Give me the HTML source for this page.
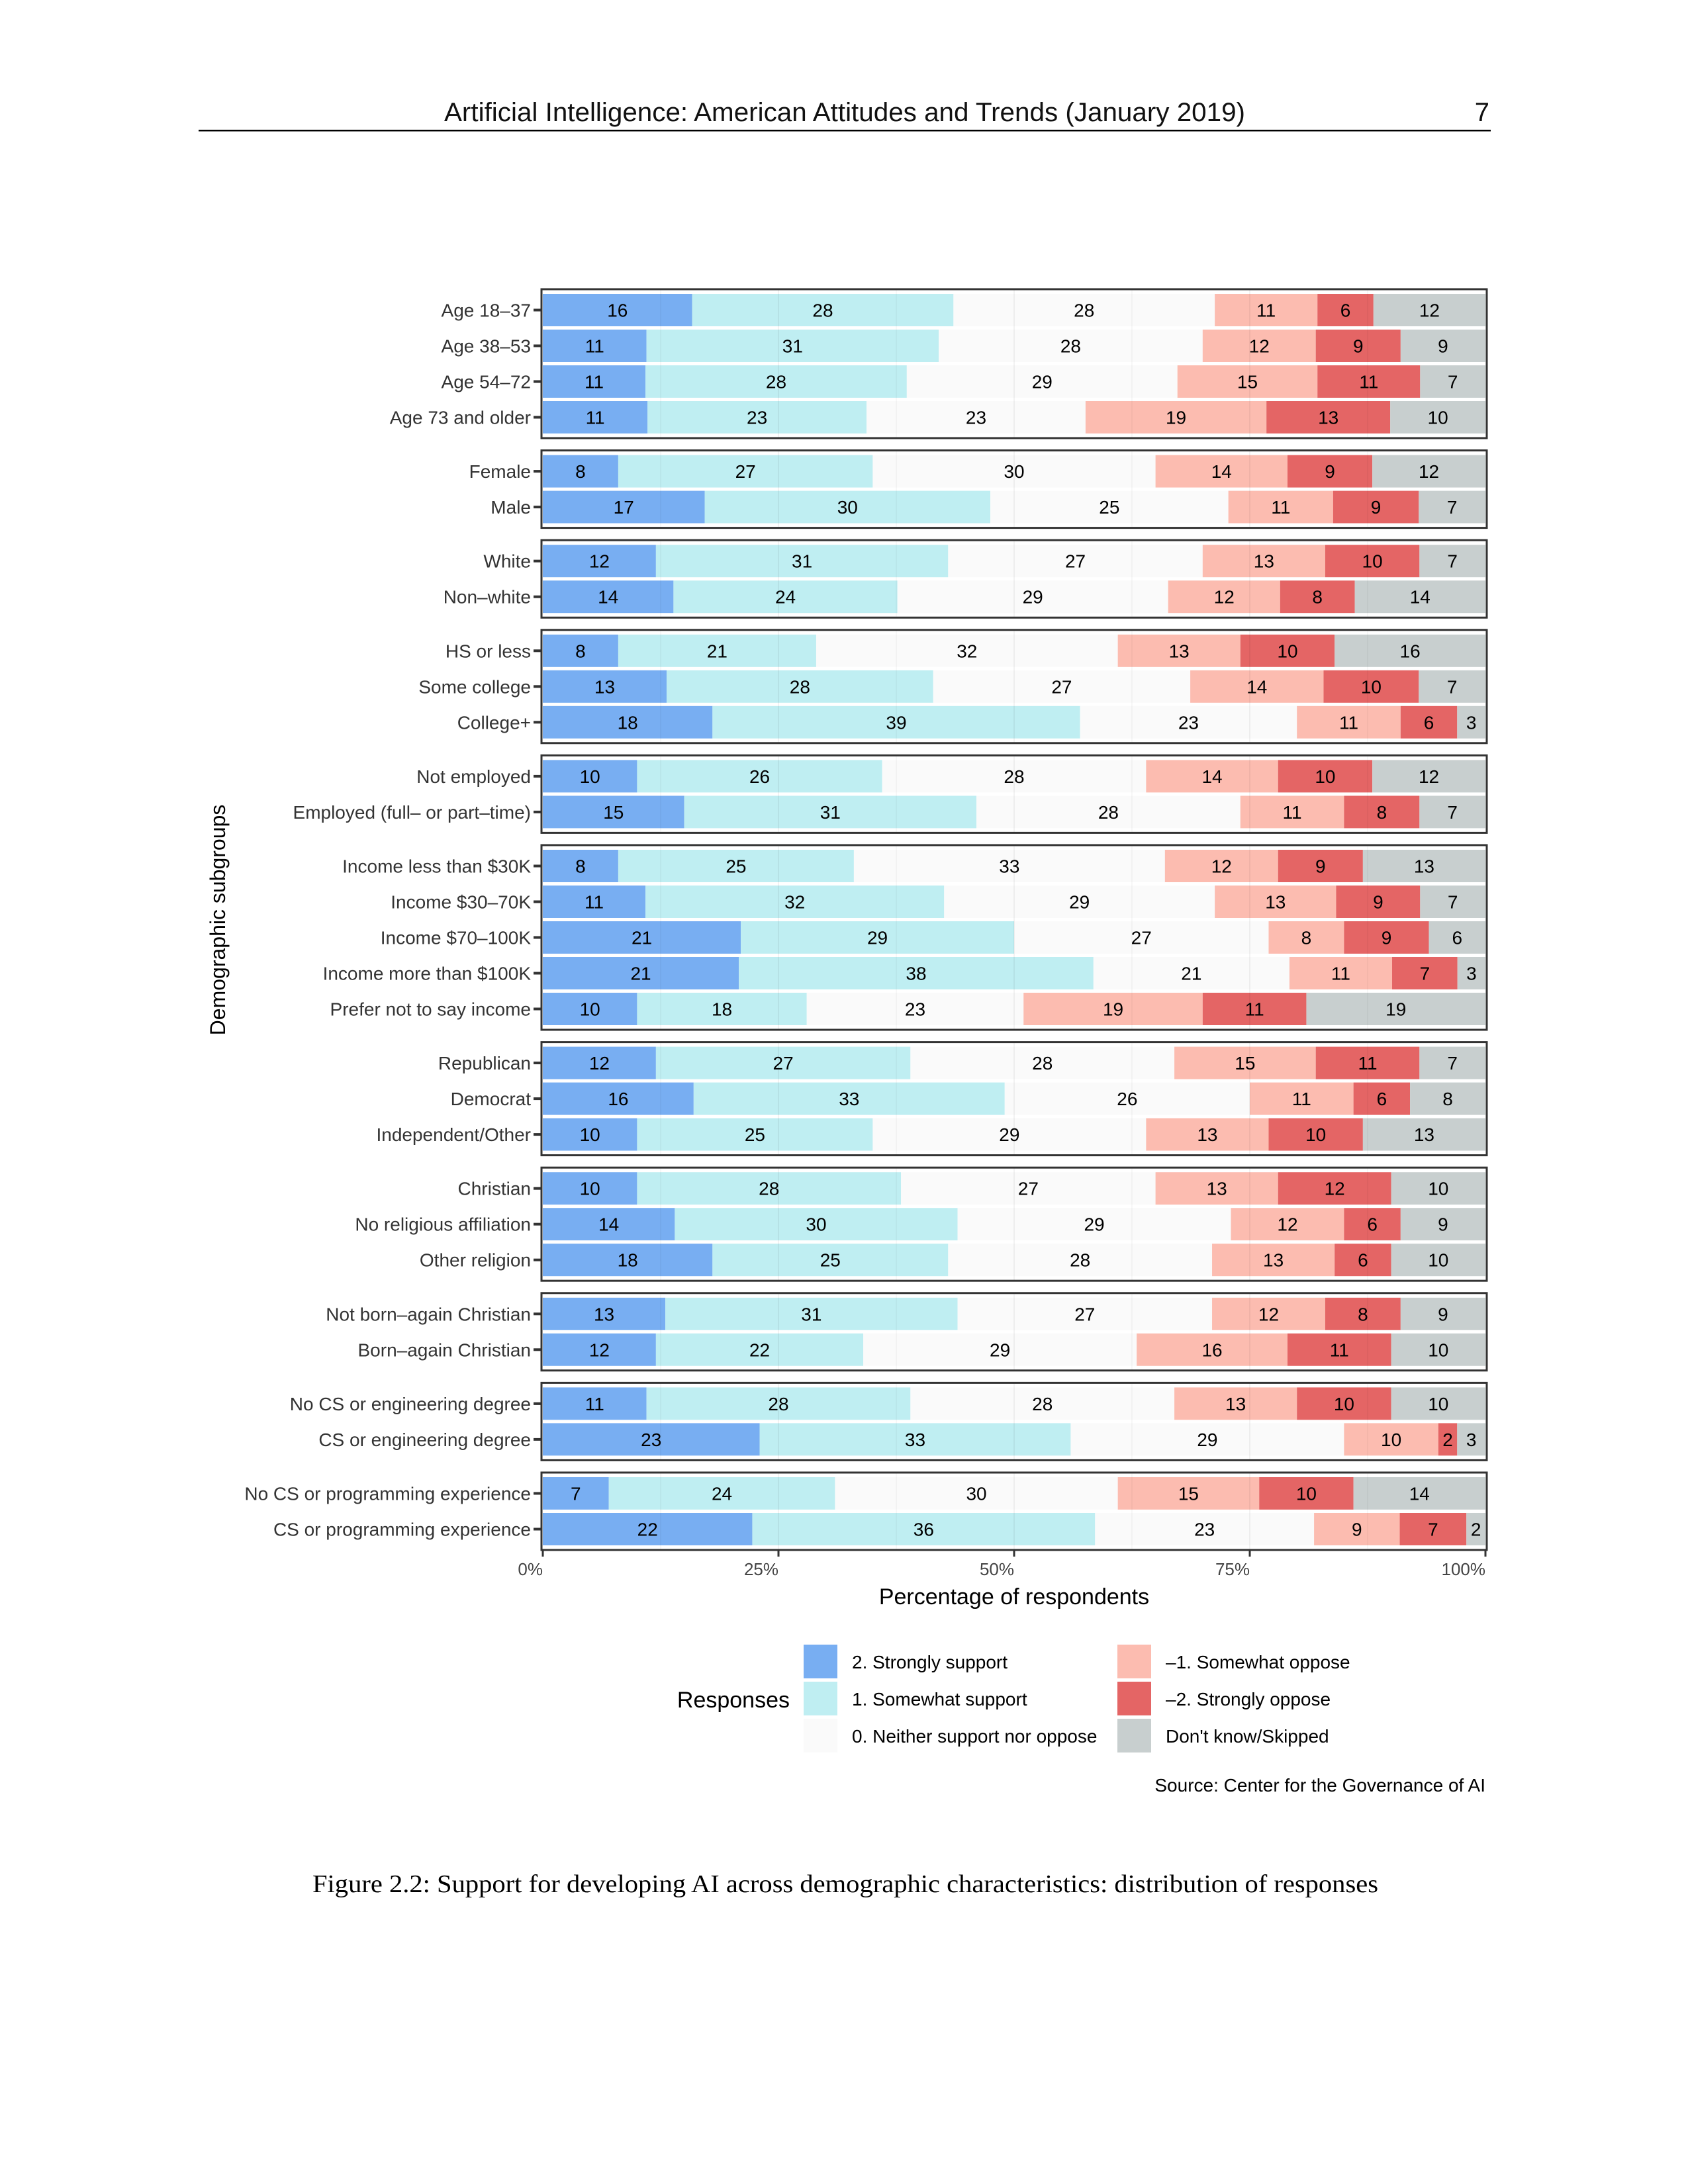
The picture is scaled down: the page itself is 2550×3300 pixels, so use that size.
<!DOCTYPE html>
<html><head><meta charset="utf-8"><style>
html,body{margin:0;padding:0;background:#fff;}
svg{display:block;}
</style></head><body>
<svg id="page" xmlns="http://www.w3.org/2000/svg" width="2550" height="3300" viewBox="0 0 2550 3300">
<rect width="2550" height="3300" fill="#fff"/>
<text x="1276" y="183" text-anchor="middle" font-family="Liberation Sans, sans-serif" font-size="40" textLength="1210" lengthAdjust="spacingAndGlyphs" fill="#111">Artificial Intelligence: American Attitudes and Trends (January 2019)</text>
<text x="2250" y="183" text-anchor="end" font-family="Liberation Sans, sans-serif" font-size="40" fill="#111">7</text>
<rect x="300" y="196" width="1952" height="2.5" fill="#000"/>
<g id="chart"></g>
<text transform="translate(340,1390) rotate(-90)" text-anchor="middle" font-family="Liberation Sans, sans-serif" font-size="32" fill="#000">Demographic subgroups</text>
<text x="1532" y="2424" text-anchor="middle" font-family="Liberation Sans, sans-serif" font-size="34" fill="#000">Percentage of respondents</text>
<g id="legend">
<text x="1193" y="2580" text-anchor="end" font-family="Liberation Sans, sans-serif" font-size="34" fill="#000">Responses</text>
</g>
<text x="2244" y="2707" text-anchor="end" font-family="Liberation Sans, sans-serif" font-size="28" fill="#000">Source: Center for the Governance of AI</text>
<text x="1277" y="2859" text-anchor="middle" font-family="Liberation Serif, serif" font-size="38" textLength="1610" lengthAdjust="spacingAndGlyphs" fill="#000">Figure 2.2: Support for developing AI across demographic characteristics: distribution of responses</text>
</svg>
<script>
const categories = ["Age 18\u201337","Age 38\u201353","Age 54\u201372","Age 73 and older","Female","Male","White","Non\u2013white","HS or less","Some college","College+","Not employed","Employed (full\u2013 or part\u2013time)","Income less than $30K","Income $30\u201370K","Income $70\u2013100K","Income more than $100K","Prefer not to say income","Republican","Democrat","Independent/Other","Christian","No religious affiliation","Other religion","Not born\u2013again Christian","Born\u2013again Christian","No CS or engineering degree","CS or engineering degree","No CS or programming experience","CS or programming experience"];
const groupSizes = [4,2,2,3,2,5,3,3,2,2,2];
const strongSupport = [16,11,11,11,8,17,12,14,8,13,18,10,15,8,11,21,21,10,12,16,10,10,14,18,13,12,11,23,7,22];
const somewhatSupport = [28,31,28,23,27,30,31,24,21,28,39,26,31,25,32,29,38,18,27,33,25,28,30,25,31,22,28,33,24,36];
const neither = [28,28,29,23,30,25,27,29,32,27,23,28,28,33,29,27,21,23,28,26,29,27,29,28,27,29,28,29,30,23];
const somewhatOppose = [11,12,15,19,14,11,13,12,13,14,11,14,11,12,13,8,11,19,15,11,13,13,12,13,12,16,13,10,15,9];
const stronglyOppose = [6,9,11,13,9,9,10,8,10,10,6,10,8,9,9,9,7,11,11,6,10,12,6,6,8,11,10,2,10,7];
const dontKnow = [12,9,7,10,12,7,7,14,16,7,3,12,7,13,7,6,3,19,7,8,13,10,9,10,9,10,10,3,14,2];
const seriesNames = ["2. Strongly support","1. Somewhat support","0. Neither support nor oppose","\u20131. Somewhat oppose","\u20132. Strongly oppose","Don't know/Skipped"];
const seriesColors = ["#78aef2","#bfeef2","#fafafa","#fcbcb0","#e46565","#c8cfcf"];
const xTicks = [0,25,50,75,100];
const xTickLabels = ["0%","25%","50%","75%","100%"];

const NS="http://www.w3.org/2000/svg";
const chart=document.getElementById('chart');
function mk(tag,attrs,parent){const e=document.createElementNS(NS,tag);for(const k in attrs)e.setAttribute(k,attrs[k]);(parent||chart).appendChild(e);return e;}
const X0=820,X1=2244,TOP=437,AXY=2342,PITCH=54,PAD=4.5,BARH=49;
const xs=v=>X0+(X1-X0)*v/100;
const nRows=categories.length,nPanels=groupSizes.length;
const GAP=(AXY-TOP-nRows*PITCH-nPanels*2*PAD)/(nPanels-1);
const series=[strongSupport,somewhatSupport,neither,somewhatOppose,stronglyOppose,dontKnow];
let y=TOP,row=0;
groupSizes.forEach((n,gi)=>{
  const h=n*PITCH+2*PAD;
  const panel=mk('g',{});
  
  
  mk('rect',{x:X0-2,y:y,width:X1-X0+4,height:h,fill:'#fff'},panel);
  for(let r=0;r<n;r++){
    const i=row+r;
    const cy=y+PAD+PITCH*r+PITCH/2;
    let tot=0;series.forEach(s=>tot+=s[i]);
    let acc=0;
    series.forEach((s,si)=>{
      const v=s[i]/tot*100;
      const rc=mk('rect',{x:xs(acc),y:cy-BARH/2,width:xs(acc+v)-xs(acc),height:BARH,fill:seriesColors[si]},panel);
      
      
      const t=mk('text',{x:(xs(acc)+xs(acc+v))/2,y:cy+10,'text-anchor':'middle','font-family':'Liberation Sans, sans-serif','font-size':28,fill:'#000'},panel);
      
      
      t.textContent=s[i];
      acc+=v;
    });
    const lab=mk('text',{x:802,y:cy+10,'text-anchor':'end','font-family':'Liberation Sans, sans-serif','font-size':28,fill:'#333'});
    
    
    lab.textContent=categories[i];
    mk('rect',{x:806,y:cy-2,width:12,height:4,fill:'#333'});
  }
  [12.5,25,37.5,50,62.5,75,87.5].forEach(v=>{
    mk('line',{x1:xs(v),x2:xs(v),y1:y,y2:y+h,stroke:'#000','stroke-opacity':v%25===0?0.05:0.03,'stroke-width':2},panel);
  });
  const b=mk('rect',{x:X0-2,y:y,width:X1-X0+4,height:h,fill:'none',stroke:'#333','stroke-width':3},panel);
  
  
  row+=n;y+=h+GAP;
});
const ax=mk('line',{x1:X0-2,x2:X1+2,y1:AXY,y2:AXY,stroke:'#333','stroke-width':3});


xTicks.forEach((v,i)=>{
  mk('line',{x1:xs(v),x2:xs(v),y1:AXY,y2:AXY+10,stroke:'#333','stroke-width':3});
  const t=mk('text',{x:xs(v),y:AXY+38,'text-anchor':i===0?'end':(i===4?'end':'middle'),'font-family':'Liberation Sans, sans-serif','font-size':26,fill:'#444'});
  if(i>0&&i<4)t.setAttribute('x',xs(v)-26);
  
  
  t.textContent=xTickLabels[i];
});
const lg=document.getElementById('legend');
seriesNames.forEach((nm,i)=>{
  const col=i<3?0:1,r=i%3;
  const sx=col===0?1214:1688,sy=2485+r*56;
  const sq=mk('rect',{x:sx,y:sy,width:51,height:51,fill:seriesColors[i]},lg);
  
  
  const t=mk('text',{x:sx+73,y:sy+36,'font-family':'Liberation Sans, sans-serif','font-size':28,fill:'#000'},lg);
  
  
  t.textContent=nm;
});
</script>
</body></html>
